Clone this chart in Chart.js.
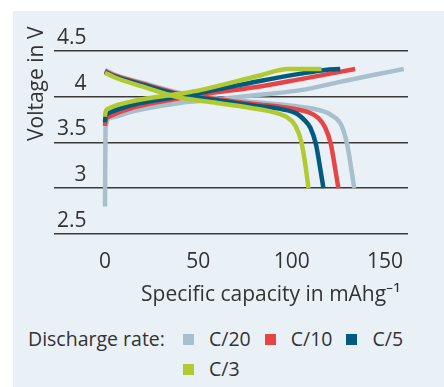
<!DOCTYPE html>
<html>
<head>
<meta charset="utf-8">
<script src="https://cdn.jsdelivr.net/npm/chart.js@4"></script>
<style>
  body { margin: 0; background: #fff; width: 444px; height: 387px; overflow: hidden; font-family: "Open Sans", sans-serif; color: #333; }
  #panel { position: absolute; left: 13px; top: 11px; width: 431px; height: 376px; background: #e9f0f6; }
  #chart { position: absolute; left: 0; top: 0; }
  #legendTitle { position: absolute; left: 15px; top: 313px; line-height: 30px; font-size: 19.5px; }
  #legendItems { position: absolute; left: 170px; top: 313px; width: 238px; display: flex; flex-wrap: wrap; font-size: 19.5px; line-height: 30px; }
  .item { display: flex; align-items: center; margin-right: 14px; }
  .box { width: 11px; height: 11px; margin-right: 15px; }
</style>
</head>
<body>
<div id="panel">
  <canvas id="chart" width="431" height="300"></canvas>
  <div id="legendTitle">Discharge rate:</div>
  <div id="legendItems"></div>
</div>
<script>
const rates = ['C/20', 'C/10', 'C/5', 'C/3'];
const rateColors = ['#a8bfcd', '#e84345', '#005b7f', '#b2ca32'];

const capacityTicks = [0, 50, 100, 150];
const voltageTicks = [2.5, 3, 3.5, 4, 4.5];

// capacity in mAh/g, voltage in V
const c20ChargeCap = [0, 0.3, 3, 15, 40, 60, 83, 105, 126, 145, 160];
const c20ChargeV   = [2.80, 3.66, 3.77, 3.84, 3.93, 3.97, 4.02, 4.07, 4.16, 4.24, 4.30];
const c20DischCap  = [0, 5, 20, 40, 60, 80, 100, 115, 121, 127, 130, 132, 133.5];
const c20DischV    = [4.29, 4.24, 4.15, 4.04, 3.98, 3.94, 3.90, 3.85, 3.80, 3.67, 3.45, 3.20, 3.00];

const c10ChargeCap = [0, 0.3, 2, 15, 40, 51, 83, 105, 134];
const c10ChargeV   = [3.68, 3.74, 3.78, 3.88, 3.98, 4.02, 4.11, 4.19, 4.30];
const c10DischCap  = [0, 5, 20, 40, 60, 80, 100, 110, 114, 118, 121, 123, 125];
const c10DischV    = [4.28, 4.23, 4.14, 4.03, 3.97, 3.92, 3.87, 3.82, 3.77, 3.66, 3.48, 3.25, 3.00];

const c5ChargeCap = [0, 0.3, 2, 15, 40, 51, 83, 105, 118, 126];
const c5ChargeV   = [3.72, 3.78, 3.82, 3.91, 4.00, 4.04, 4.17, 4.25, 4.29, 4.30];
const c5DischCap  = [0, 5, 20, 40, 60, 80, 95, 103, 107, 110, 113, 115, 117];
const c5DischV    = [4.27, 4.22, 4.13, 4.02, 3.96, 3.90, 3.86, 3.81, 3.74, 3.66, 3.48, 3.25, 3.00];

const c3ChargeCap = [0, 0.3, 2, 15, 40, 51, 83, 98, 116];
const c3ChargeV   = [3.78, 3.83, 3.87, 3.95, 4.03, 4.07, 4.23, 4.30, 4.30];
const c3DischCap  = [0, 5, 20, 40, 60, 80, 90, 97, 102, 105, 107, 109];
const c3DischV    = [4.26, 4.21, 4.11, 3.99, 3.93, 3.87, 3.83, 3.78, 3.68, 3.52, 3.30, 3.00];

const curves = [
  [c20ChargeCap, c20ChargeV, c20DischCap, c20DischV],
  [c10ChargeCap, c10ChargeV, c10DischCap, c10DischV],
  [c5ChargeCap, c5ChargeV, c5DischCap, c5DischV],
  [c3ChargeCap, c3ChargeV, c3DischCap, c3DischV]
];

document.addEventListener('DOMContentLoaded', function() {
  // charge and discharge go into one dataset, split by a null point
  const datasets = rates.map((rate, i) => {
    const [cc, cv, dc, dv] = curves[i];
    const pts = cc.map((x, j) => ({ x: x, y: cv[j] }));
    pts.push({ x: cc[cc.length - 1], y: null });
    dc.forEach((x, j) => pts.push({ x: x, y: dv[j] }));
    return {
      label: rate,
      data: pts,
      borderColor: rateColors[i],
      backgroundColor: rateColors[i],
      borderWidth: 4.5,
      pointRadius: 0,
      cubicInterpolationMode: 'monotone',
      spanGaps: false,
      order: rates.length - i
    };
  });

  const font = { family: '"Open Sans", sans-serif', size: 21 };

  const ctx = document.getElementById('chart').getContext('2d');
  new Chart(ctx, {
    type: 'line',
    data: { datasets: datasets },
    options: {
      responsive: false,
      animation: false,
      layout: { padding: { top: 14, right: 36, bottom: 0, left: 0 } },
      plugins: {
        legend: { display: false },
        tooltip: { enabled: false }
      },
      scales: {
        x: {
          type: 'linear',
          min: -27.3,
          max: 162.3,
          grid: { display: false, drawTicks: false },
          border: { display: false },
          afterBuildTicks: axis => { axis.ticks = capacityTicks.map(v => ({ value: v })); },
          afterFit: scale => { scale.height = 77; },
          ticks: { padding: 15, font: font, color: '#333', callback: v => String(v) },
          title: {
            display: true,
            text: 'Specific capacity in mAhg⁻¹ \u200A',
            align: 'end',
            font: font,
            color: '#333',
            padding: { top: 0, bottom: 3 }
          }
        },
        y: {
          min: 2.5,
          max: 4.763,
          grid: { color: '#3a3a3a', lineWidth: 1.5, drawTicks: false },
          border: { display: false },
          afterBuildTicks: axis => { axis.ticks = voltageTicks.map(v => ({ value: v })); },
          afterFit: scale => { scale.width = 41; },
          ticks: {
            mirror: true,
            crossAlign: 'far',
            padding: 3,
            labelOffset: -13,
            font: font,
            color: '#333',
            callback: v => String(v)
          },
          title: {
            display: true,
            text: 'Voltage in V',
            align: 'end',
            font: font,
            color: '#333',
            padding: { top: 11, bottom: 0 }
          }
        }
      }
    }
  });

  // legend
  const items = document.getElementById('legendItems');
  rates.forEach((rate, i) => {
    const item = document.createElement('div');
    item.className = 'item';
    const box = document.createElement('span');
    box.className = 'box';
    box.style.background = rateColors[i];
    const txt = document.createElement('span');
    txt.textContent = rate;
    item.appendChild(box);
    item.appendChild(txt);
    items.appendChild(item);
  });
});
</script>
</body>
</html>
